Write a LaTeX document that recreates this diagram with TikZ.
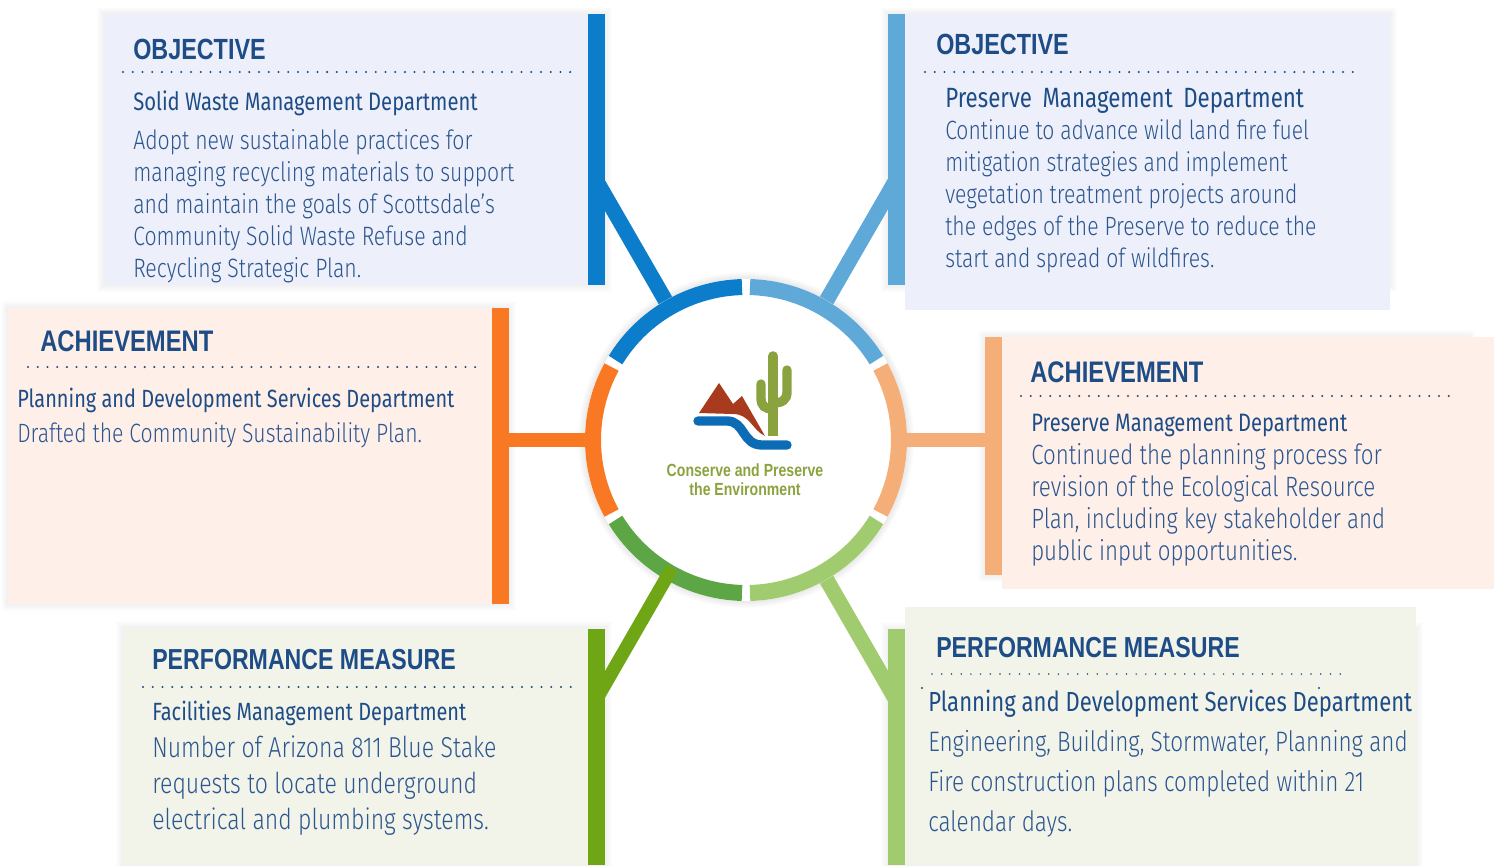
\documentclass[tikz,border=0pt]{standalone}
\usepackage{fontspec}
\setmainfont{Liberation Sans}
\newfontfamily\headfnt{Liberation Sans}[FakeStretch=0.80]
\newfontfamily\bodyfnt{Fira Sans Light}[FakeStretch=0.80]
\newfontfamily\deptfnt{Fira Sans}[FakeStretch=0.80]
\usetikzlibrary{fit}
\usetikzlibrary{positioning}

\definecolor{inktitle}{HTML}{1E4C86}
\definecolor{inkbody}{HTML}{2C5690}
\definecolor{blueA}{HTML}{0B7DCB}
\definecolor{blueB}{HTML}{5FA9D8}
\definecolor{orangeA}{HTML}{F97823}
\definecolor{orangeB}{HTML}{F6AE78}
\definecolor{greenA}{HTML}{6FA615}
\definecolor{greenC}{HTML}{5CA646}
\definecolor{greenB}{HTML}{A1CB6F}
\definecolor{tintblue}{HTML}{EDF0FA}
\definecolor{tintorange}{HTML}{FEF0E8}
\definecolor{tintgreen}{HTML}{F2F4E9}
\definecolor{logogreen}{HTML}{8AA33F}
\definecolor{logored}{HTML}{A83A1E}
\definecolor{logoblue}{HTML}{0B6CB5}

\tikzset{
	panelbox/.style={fit={#1},inner sep=0pt,draw=none},
	titletext/.style={anchor=base west,inner sep=0pt,text=inktitle,font=\headfnt\bfseries\fontsize{#1}{26}\selectfont},
	depttext/.style={anchor=base west,inner sep=0pt,text=inktitle,font=\deptfnt\fontsize{#1}{24}\selectfont},
	bodytext/.style 2 args={anchor=base west,inner sep=0pt,align=left,text=inkbody,font=\bodyfnt\fontsize{#1}{#2}\selectfont},
	dotrule/.style={line width=1.7pt,line cap=round,dash pattern=on 0pt off 7.29pt,color=inktitle},
	spoke/.style={line width=10pt,color=#1},
	slantspoke/.style={line width=11.5pt,color=#1},
	ringpart/.style={line width=12pt,color=#1}
}

\newcommand{\softshadow}[4]{%
	\foreach \s in {1,...,7}{\fill[black,opacity=.009] (#1-\s,#2-\s) rectangle (#3+\s,#4+\s);}}

\begin{document}
\begin{tikzpicture}[x=0.75pt,y=-0.75pt]
	\useasboundingbox (0,0) rectangle (1502,865);
	% shadows
	\softshadow{104}{14}{605}{285}
	\softshadow{888}{14}{1390}{285}
	\softshadow{8}{308}{509}{604}
	\softshadow{985}{337}{1468}{575}
	\softshadow{123}{628}{605}{865}
	\softshadow{888}{629}{1416}{865}
	\foreach \s in {1,...,7}{\fill[black,opacity=.012] (746,440) circle ({(161+\s)*.75pt});}
	% panels
	\node[panelbox={(104,14) (588,285)},fill=tintblue] (p1) {};
	\node[panelbox={(905,14) (1390,310)},fill=tintblue] (p2) {};
	\node[panelbox={(8,308) (492,604)},fill=tintorange] (p3) {};
	\node[panelbox={(1002,337) (1494,589)},fill=tintorange] (p4) {};
	\node[panelbox={(123,628) (588,865)},fill=tintgreen] (p5) {};
	\node[panelbox={(905,607) (1416,865)},fill=tintgreen] (p6) {};
	% centre
	\node[circle,fill=white,inner sep=0pt,minimum size=241.5pt] (hub) at (746,440) {};
	\path (596,180) coordinate(e1)
	(896,180) coordinate(e2)
	(500,440) coordinate(e3)
	(993,440) coordinate(e4)
	(596,700) coordinate(e5)
	(896,700) coordinate(e6)
	(672,568) coordinate(c5);
	\draw[slantspoke=blueA] (hub.120) -- (e1);
	\draw[slantspoke=blueB] (hub.60) -- (e2);
	\draw[spoke=orangeA] (hub.180) -- (e3);
	\draw[spoke=orangeB] (hub.0) -- (e4);
	\draw[slantspoke=greenB] (hub.-60) -- (e6);
	\foreach \a/\b/\col in {31.5/88.5/blueB,91.5/148.5/blueA,151.5/208.5/orangeA,
		211.5/268.5/greenC,271.5/328.5/greenB,331.5/388.5/orangeB}
	\draw[ringpart=\col] ([shift={(\a:114.75pt)}]hub.center) arc (\a:\b:114.75pt);
	\draw[spoke=greenA] (c5) -- (e5);
	% bars
	\node[panelbox={(588,14) (605,285)},fill=blueA] (b1) {};
	\node[panelbox={(888,14) (905,285)},fill=blueB] (b2) {};
	\node[panelbox={(492,308) (509,604)},fill=orangeA] (b3) {};
	\node[panelbox={(985,337) (1002,575)},fill=orangeB] (b4) {};
	\node[panelbox={(588,629) (605,865)},fill=greenA] (b5) {};
	\node[panelbox={(888,629) (905,865)},fill=greenB] (b6) {};
	% logo
	\fill[logored] (699,413) -- (719,383) -- (733,404) -- (742,396) -- (765,436)
	.. controls (752,430) and (750,414) .. (733,414) -- cycle;
	\draw[line width=7pt,line cap=round,color=logoblue] (698,421) -- (727,421)
	.. controls (745,421) and (742,445) .. (762,445) -- (787,445);
	\draw[line width=7.2pt,line cap=round,color=logogreen] (773,356) -- (773,400);
	\draw[line width=7.2pt,color=logogreen] (773,400) -- (773,436);
	\draw[line width=7pt,line cap=round,color=logogreen] (761,384) -- (761,398)
	.. controls (761,406) and (765,409) .. (773,409);
	\draw[line width=7pt,line cap=round,color=logogreen] (787,370) -- (787,392)
	.. controls (787,400) and (782,403) .. (773,403);
	\node[inner sep=0pt,align=center,text=logogreen,font=\headfnt\bfseries\fontsize{13.2}{14.2}\selectfont] (motto) at (745,480) {Conserve and Preserve\\the Environment};
	% text of the panels
	\node[titletext=21.9] (t1) at (133,59) {OBJECTIVE};
	\path (123,72) coordinate(r1a) (571,72) coordinate(r1b);
	\draw[dotrule] (r1a) -- (r1b);
	\node[depttext=18.95] (d1) at (133,110) {Solid Waste Management Department};
	\node[bodytext={19.9}{24pt}] (x1) at (133,277) {Adopt new sustainable practices for\\managing recycling materials to support\\and maintain the goals of Scottsdale’s\\Community Solid Waste Refuse and\\Recycling Strategic Plan.};
	\node[titletext=21.9] (t2) at (936,54) {OBJECTIVE};
	\path (925,72) coordinate(r2a) (1353,72) coordinate(r2b);
	\draw[dotrule] (r2a) -- (r2b);
	\node[depttext=20.9] (d2) at (945,107) {Preserve\, Management\, Department};
	\node[bodytext={19.8}{24pt}] (x2) at (945,267) {Continue to advance wild land fire fuel\\mitigation strategies and implement\\vegetation treatment projects around\\the edges of the Preserve to reduce the\\start and spread of wildfires.};
	\node[titletext=22.3] (t3) at (40,351) {ACHIEVEMENT};
	\path (28,367) coordinate(r3a) (476,367) coordinate(r3b);
	\draw[dotrule] (r3a) -- (r3b);
	\node[depttext=18.7] (d3) at (17,407) {Planning and Development Services Department};
	\node[bodytext={19.85}{24pt}] (x3) at (17,442) {Drafted the Community Sustainability Plan.};
	\node[titletext=22.3] (t4) at (1030,382) {ACHIEVEMENT};
	\path (1021,396) coordinate(r4a) (1451,396) coordinate(r4b);
	\draw[dotrule] (r4a) -- (r4b);
	\node[depttext=18.9] (d4) at (1031,431) {Preserve Management Department};
	\node[bodytext={20.9}{24pt}] (x4) at (1031,560) {Continued the planning process for\\revision of the Ecological Resource\\Plan, including key stakeholder and\\public input opportunities.};
	\node[titletext=21.7] (t5) at (152,669) {PERFORMANCE MEASURE};
	\path (143,687) coordinate(r5a) (571,687) coordinate(r5b);
	\draw[dotrule] (r5a) -- (r5b);
	\node[depttext=18.7] (d5) at (152,720) {Facilities Management Department};
	\node[bodytext={21.6}{27pt}] (x5) at (152,829) {Number of Arizona 811 Blue Stake\\requests to locate underground\\electrical and plumbing systems.};
	\node[titletext=21.7] (t6) at (936,657) {PERFORMANCE MEASURE};
	\path (932,674) coordinate(r6a) (1346,674) coordinate(r6b);
	\draw[dotrule,line width=1.3pt] (r6a) -- (r6b);
	\node[depttext=20.7] (d6) at (928,711) {Planning and Development Services Department};
	\node[bodytext={21.1}{30pt}] (x6) at (928,831) {Engineering, Building, Stormwater, Planning and\\Fire construction plans completed within 21\\calendar days.};
	\fill[inktitle] (922,688) circle (.9pt) (1319,688) circle (.9pt);
\end{tikzpicture}
\end{document}
